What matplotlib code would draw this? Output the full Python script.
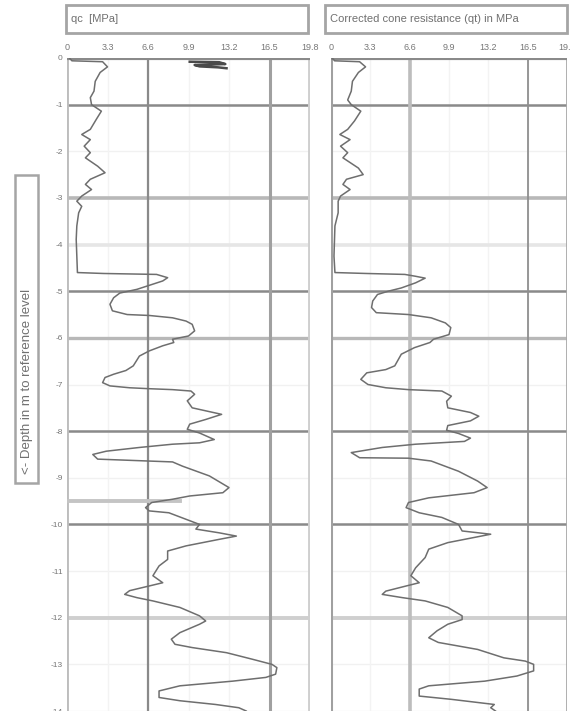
import matplotlib
matplotlib.use("Agg")
import matplotlib.pyplot as plt
from matplotlib.patches import Rectangle
from matplotlib.transforms import Bbox, TransformedBbox

plt.rcParams['font.family'] = ['Liberation Sans', 'DejaVu Sans']

# ---- data (depth in m, value in MPa) ----
qc_depth = [0.0, -0.06, -0.08, -0.19, -0.31, -0.5, -0.71, -0.85, -1.0, -1.14, -1.31, -1.53, -1.64,
            -1.75, -1.89, -2.03, -2.14, -2.32, -2.46, -2.6, -2.71, -2.82, -2.96, -3.07, -3.18,
            -3.32, -3.6, -3.89, -4.25, -4.6, -4.62, -4.64, -4.71, -4.78, -4.89, -4.96, -5.04,
            -5.14, -5.28, -5.42, -5.5, -5.52, -5.57, -5.64, -5.71, -5.85, -5.96, -6.03, -6.1,
            -6.17, -6.28, -6.39, -6.6, -6.7, -6.78, -6.85, -6.96, -7.03, -7.07, -7.09, -7.11,
            -7.14, -7.21, -7.35, -7.5, -7.64, -7.75, -7.85, -7.96, -8.04, -8.18, -8.25, -8.28,
            -8.35, -8.43, -8.5, -8.6, -8.64, -8.66, -8.75, -8.96, -9.21, -9.32, -9.39, -9.46,
            -9.53, -9.64, -9.71, -9.75, -9.89, -10.0, -10.1, -10.18, -10.25, -10.32, -10.46,
            -10.57, -10.75, -10.89, -11.1, -11.25, -11.32, -11.42, -11.5, -11.57, -11.64,
            -11.78, -11.96, -12.07, -12.14, -12.32, -12.46, -12.57, -12.64, -12.75, -12.89,
            -13.0, -13.07, -13.21, -13.28, -13.36, -13.46, -13.57, -13.71, -13.78, -13.86, -13.93, -14.0]
qc_value = [0.2, 0.4, 2.9, 3.3, 2.7, 2.3, 2.2, 1.9, 2.0, 2.8, 2.4, 1.9, 1.2,
            1.9, 1.4, 1.9, 1.5, 2.5, 3.1, 1.9, 1.5, 2.0, 1.2, 0.8, 1.2,
            0.95, 0.8, 0.75, 0.8, 0.85, 3.0, 7.3, 8.2, 7.8, 6.5, 5.7, 4.3,
            3.8, 3.5, 3.7, 4.9, 6.7, 8.6, 9.7, 10.2, 10.4, 9.9, 8.6, 8.7,
            7.8, 6.7, 5.9, 5.4, 4.8, 3.8, 3.1, 2.9, 3.5, 5.1, 6.7, 8.6,
            10.1, 10.4, 9.8, 10.2, 12.6, 11.3, 10.0, 9.8, 10.8, 12.0, 10.8, 8.6,
            5.9, 3.2, 2.1, 2.5, 6.6, 8.6, 9.4, 11.6, 13.2, 12.7, 10.0, 8.6,
            6.9, 6.4, 6.7, 8.3, 9.7, 10.8, 10.5, 12.4, 13.8, 12.4, 9.7,
            8.2, 8.2, 7.5, 7.0, 7.8, 6.7, 5.1, 4.7, 5.7, 7.0,
            9.2, 10.8, 11.3, 10.8, 9.2, 8.5, 8.8, 10.2, 13.0, 15.1,
            16.7, 17.1, 17.0, 16.2, 13.5, 9.2, 7.5, 7.5, 9.2, 12.1, 14.0, 14.6]

qt_depth = [0.0, -0.06, -0.08, -0.19, -0.31, -0.5, -0.71, -0.9, -1.0, -1.14, -1.35, -1.53, -1.64,
            -1.75, -1.89, -2.03, -2.14, -2.36, -2.5, -2.6, -2.71, -2.82, -2.96, -3.07, -3.32,
            -3.6, -4.25, -4.6, -4.62, -4.64, -4.68, -4.72, -4.82, -4.93, -5.0, -5.07, -5.21,
            -5.35, -5.46, -5.5, -5.57, -5.68, -5.78, -5.93, -6.03, -6.1, -6.21, -6.35, -6.6,
            -6.68, -6.75, -6.89, -7.0, -7.07, -7.11, -7.14, -7.25, -7.36, -7.5, -7.6, -7.68,
            -7.78, -7.88, -7.98, -8.05, -8.15, -8.22, -8.28, -8.35, -8.46, -8.57, -8.58, -8.64,
            -8.86, -9.07, -9.21, -9.32, -9.43, -9.53, -9.64, -9.75, -9.85, -10.0, -10.14,
            -10.21, -10.28, -10.39, -10.53, -10.71, -10.93, -11.1, -11.25, -11.32, -11.43,
            -11.5, -11.57, -11.64, -11.78, -11.96, -12.04, -12.14, -12.28, -12.43, -12.53,
            -12.68, -12.86, -12.93, -13.0, -13.14, -13.25, -13.36, -13.46, -13.53, -13.68,
            -13.75, -13.86, -13.93, -14.0]
qt_value = [0.1, 0.3, 2.4, 2.9, 2.3, 1.8, 1.7, 1.4, 1.7, 2.5, 1.97, 1.4, 0.74,
            1.6, 0.8, 1.4, 1.0, 2.3, 2.7, 1.3, 1.0, 1.6, 0.8, 0.6, 0.6,
            0.33, 0.25, 0.33, 3.0, 6.2, 7.1, 7.9, 7.1, 5.9, 4.8, 3.9, 3.5,
            3.4, 3.8, 6.5, 8.4, 9.6, 10.05, 9.9, 8.6, 8.3, 7.0, 5.9, 5.35,
            4.6, 3.0, 2.5, 3.1, 4.6, 6.5, 9.3, 10.1, 9.7, 9.8, 11.7, 12.4,
            11.7, 9.8, 9.7, 10.7, 11.7, 11.2, 7.1, 4.3, 1.7, 2.4, 6.5, 8.4,
            10.7, 12.3, 13.1, 12.0, 8.2, 6.5, 6.3, 7.4, 9.3, 10.7, 11.0,
            13.4, 12.0, 9.8, 8.2, 7.9, 7.1, 6.7, 7.4, 6.3, 4.6,
            4.3, 6.0, 7.9, 9.8, 11.0, 11.0, 9.8, 8.9, 8.2, 9.0,
            12.3, 14.5, 16.3, 17.0, 17.0, 15.6, 12.9, 8.2, 7.4, 7.4,
            10.1, 13.7, 13.4, 13.8]

# small dark scribble near the top of the qc panel
mark_value = [10.0, 12.4, 12.9, 10.4, 10.8, 12.3, 13.0]
mark_depth = [-0.08, -0.09, -0.13, -0.15, -0.18, -0.2, -0.22]

x_ticks = [0, 3.3, 6.6, 9.9, 13.2, 16.5, 19.8]
x_tick_labels = ["0", "3.3", "6.6", "9.9", "13.2", "16.5", "19.8"]
depth_ticks = list(range(0, -15, -1))
depth_tick_labels = [str(d) for d in depth_ticks]

titles = ["qc  [MPa]", "Corrected cone resistance (qt) in MPa"]
ylabel = "<- Depth in m to reference level"

W, H = 578, 711
fig = plt.figure(figsize=(W / 100, H / 100), dpi=100)


def fx(px):
    return px / W


def fy(py):
    return 1 - py / H


hstyles = {-1: ("#8a8a8a", 1.8), -3: ("#b8b8b8", 2.6), -4: ("#e6e6e6", 2.6),
           -5: ("#8a8a8a", 1.8), -6: ("#b8b8b8", 2.4), -8: ("#8a8a8a", 1.8),
           -10: ("#8a8a8a", 1.8), -12: ("#cfcfcf", 2.8)}
vstyles_left = {6.6: ("#8a8a8a", 1.6), 16.5: ("#a0a0a0", 2.2), 19.8: ("#cfcfcf", 2.8)}
vstyles_right = {6.6: ("#bdbdbd", 2.6), 16.5: ("#8f8f8f", 1.3), 19.8: ("#a8a8a8", 2.0)}

panels = [
    dict(left=67, right=310, xs=qc_value, ys=qc_depth, title=titles[0], box=(66, 308),
         vst=vstyles_left, spine_col="#bdbdbd", spine_lw=2.8, yt=True),
    dict(left=331, right=567, xs=qt_value, ys=qt_depth, title=titles[1], box=(325, 567),
         vst=vstyles_right, spine_col="#a0a0a0", spine_lw=2.2, yt=False),
]

axes = []
for p in panels:
    ax = fig.add_axes([fx(p["left"]), 0, fx(p["right"] - p["left"]), fy(58)])
    axes.append(ax)
    ax.set_xlim(0, 19.8)
    ax.set_ylim(-14, 0)
    for s in ax.spines.values():
        s.set_visible(False)
    for d in depth_ticks:
        ax.axhline(d, color="#f1f1f1", lw=1.0, zorder=0)
    for xv in x_ticks[1:-1]:
        ax.axvline(xv, color="#f3f3f3", lw=1.0, zorder=0)
    for d, (c, lw) in hstyles.items():
        ax.axhline(d, color=c, lw=lw, zorder=1)
    for xv, (c, lw) in p["vst"].items():
        ax.axvline(xv, color=c, lw=lw, zorder=1)
    ax.axvline(0, color=p["spine_col"], lw=p["spine_lw"], zorder=1)
    ax.axhline(0, color="#8a8a8a", lw=3.0, zorder=3)

    ax.plot(p["xs"], p["ys"], color="#6e6e6e", lw=1.1, zorder=4)

    ax.xaxis.tick_top()
    ax.set_xticks(x_ticks)
    ax.set_xticklabels(x_tick_labels, fontsize=6.5, color="#777777")
    ax.tick_params(axis="x", length=0, pad=4)
    ax.set_yticks(depth_ticks)
    if p["yt"]:
        ax.set_yticklabels(depth_tick_labels, fontsize=6, color="#777777")
        ax.tick_params(axis="y", length=0, pad=3)
    else:
        ax.set_yticklabels([])
        ax.tick_params(axis="y", length=0)

    b0, b1 = p["box"]
    fig.patches.append(Rectangle((fx(b0), fy(33)), fx(b1 - b0), fy(5) - fy(33),
                                 transform=fig.transFigure, facecolor="white",
                                 edgecolor="#a5a5a5", lw=2.0))
    fig.text(fx(b0 + 5), fy(19), p["title"], fontsize=8, color="#707070",
             ha="left", va="center")

# clip the last tick label of the right panel like the reference
clipbox = TransformedBbox(Bbox([[0, 0], [570 / W, 1]]), fig.transFigure)
for lab in axes[1].get_xticklabels():
    lab.set_clip_on(True)
    lab.set_clip_box(clipbox)

axes[0].plot([0, 9.2], [-9.5, -9.5], color="#c4c4c4", lw=2.8, zorder=1)
axes[0].plot(mark_value, mark_depth, color="#4a4a4a", lw=1.8, zorder=5)

fig.patches.append(Rectangle((fx(15), fy(483)), fx(23), fy(175) - fy(483),
                             transform=fig.transFigure, facecolor="white",
                             edgecolor="#a5a5a5", lw=1.8))
fig.text(fx(27), fy(474), ylabel, rotation=90, fontsize=9.5, color="#707070",
         ha="center", va="bottom")

fig.savefig("out.png", dpi=100)
